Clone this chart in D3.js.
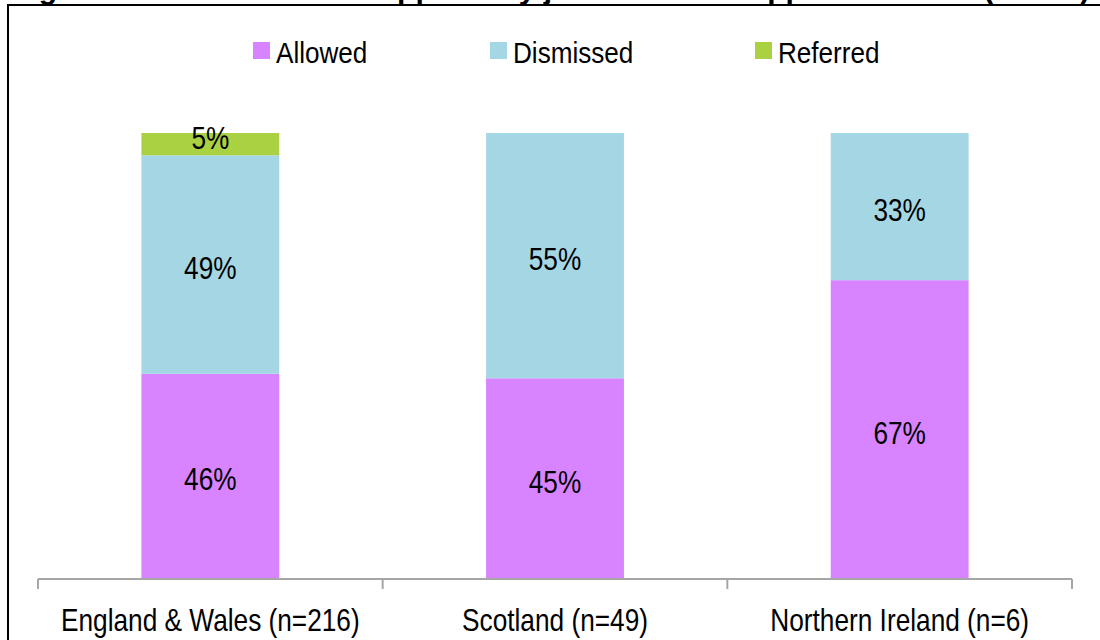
<!DOCTYPE html>
<html>
<head>
<meta charset="utf-8">
<script src="https://cdn.jsdelivr.net/npm/d3@7"></script>
<style>
  html, body { margin: 0; padding: 0; background: #fff; }
  svg { display: block; }
  text { font-family: "Liberation Sans", Arial, sans-serif; fill: #000; }
</style>
</head>
<body>
<svg id="chart" width="1100" height="640"></svg>
<script>
// ---- Data ----
const titleText = "Figure 10: Outcome of all appeals by jurisdiction of appeal decision (n=271)";
const categories = ["England & Wales (n=216)", "Scotland (n=49)", "Northern Ireland (n=6)"];
const seriesNames = ["Allowed", "Dismissed", "Referred"];
const allowed   = [46, 45, 67];
const dismissed = [49, 55, 33];
const referred  = [5, 0, 0];
const colors = ["#D883FF", "#A5D6E4", "#A9D142"];

const svg = d3.select("#chart");
const W = 1100, H = 640;

function narrowText(sel, xf, yf, sx) {
  return sel.attr("transform", (d, i) => `translate(${xf(d, i)},${yf(d, i)}) scale(${sx},1)`);
}

// frame
svg.append("rect").attr("x", 8).attr("y", 5).attr("width", W + 10).attr("height", H + 10)
  .attr("fill", "none").attr("stroke", "#000").attr("stroke-width", 2);

// title, clipped at the top edge as in the source image
svg.append("text").attr("x", 12).attr("y", -1)
  .attr("font-size", 30).attr("font-weight", "bold").text(titleText);

const x = d3.scaleBand().domain(categories).range([38, 1072]).paddingInner(0.6).paddingOuter(0.3);
const y = d3.scaleLinear().domain([0, 100]).range([579, 133]);

const rows = categories.map((c, i) => ({ cat: c, Allowed: allowed[i], Dismissed: dismissed[i], Referred: referred[i] }));
const stack = d3.stack().keys(seriesNames)(rows);

const g = svg.append("g");
stack.forEach((layer, li) => {
  g.selectAll(null).data(layer.filter(d => d[1] - d[0] > 0)).enter().append("rect")
    .attr("x", d => x(d.data.cat))
    .attr("width", x.bandwidth())
    .attr("y", d => y(d[1]))
    .attr("height", d => y(d[0]) - y(d[1]))
    .attr("fill", colors[li]);
});

// data labels
stack.forEach((layer) => {
  const t = g.selectAll(null).data(layer.filter(d => d[1] - d[0] > 0)).enter().append("text")
    .attr("text-anchor", "middle")
    .attr("font-size", 32)
    .text(d => (d[1] - d[0]) + "%");
  narrowText(t,
    d => x(d.data.cat) + x.bandwidth() / 2,
    d => Math.min((y(d[0]) + y(d[1])) / 2 + 14, y(d[0]) - 6), 0.82);
});

// axis
const step = x.step();
const axisY = 579;
const axisG = svg.append("g");
axisG.append("line").attr("x1", x.range()[0]).attr("x2", x.range()[1])
  .attr("y1", axisY).attr("y2", axisY).attr("stroke", "#A6A6A6").attr("stroke-width", 2);
const bounds = categories.map(c => x(c) - x.paddingOuter() * step).concat([x.range()[1]]);
axisG.selectAll(null).data(bounds).enter().append("line")
  .attr("x1", d => d).attr("x2", d => d)
  .attr("y1", axisY).attr("y2", axisY + 10)
  .attr("stroke", "#A6A6A6").attr("stroke-width", 2);
const xl = axisG.selectAll(null).data(categories).enter().append("text")
  .attr("text-anchor", "middle")
  .attr("font-size", 32)
  .text(d => d);
narrowText(xl, d => x(d) + x.bandwidth() / 2, () => 631, 0.82);

// legend
const legendX = [253, 490, 755];
const lg = svg.append("g");
seriesNames.forEach((s, i) => {
  lg.append("rect").attr("x", legendX[i]).attr("y", 42).attr("width", 17).attr("height", 17).attr("fill", colors[i]);
  lg.append("text").attr("font-size", 30)
    .attr("transform", `translate(${legendX[i] + 23},63) scale(0.87,1)`).text(s);
});
</script>
</body>
</html>
